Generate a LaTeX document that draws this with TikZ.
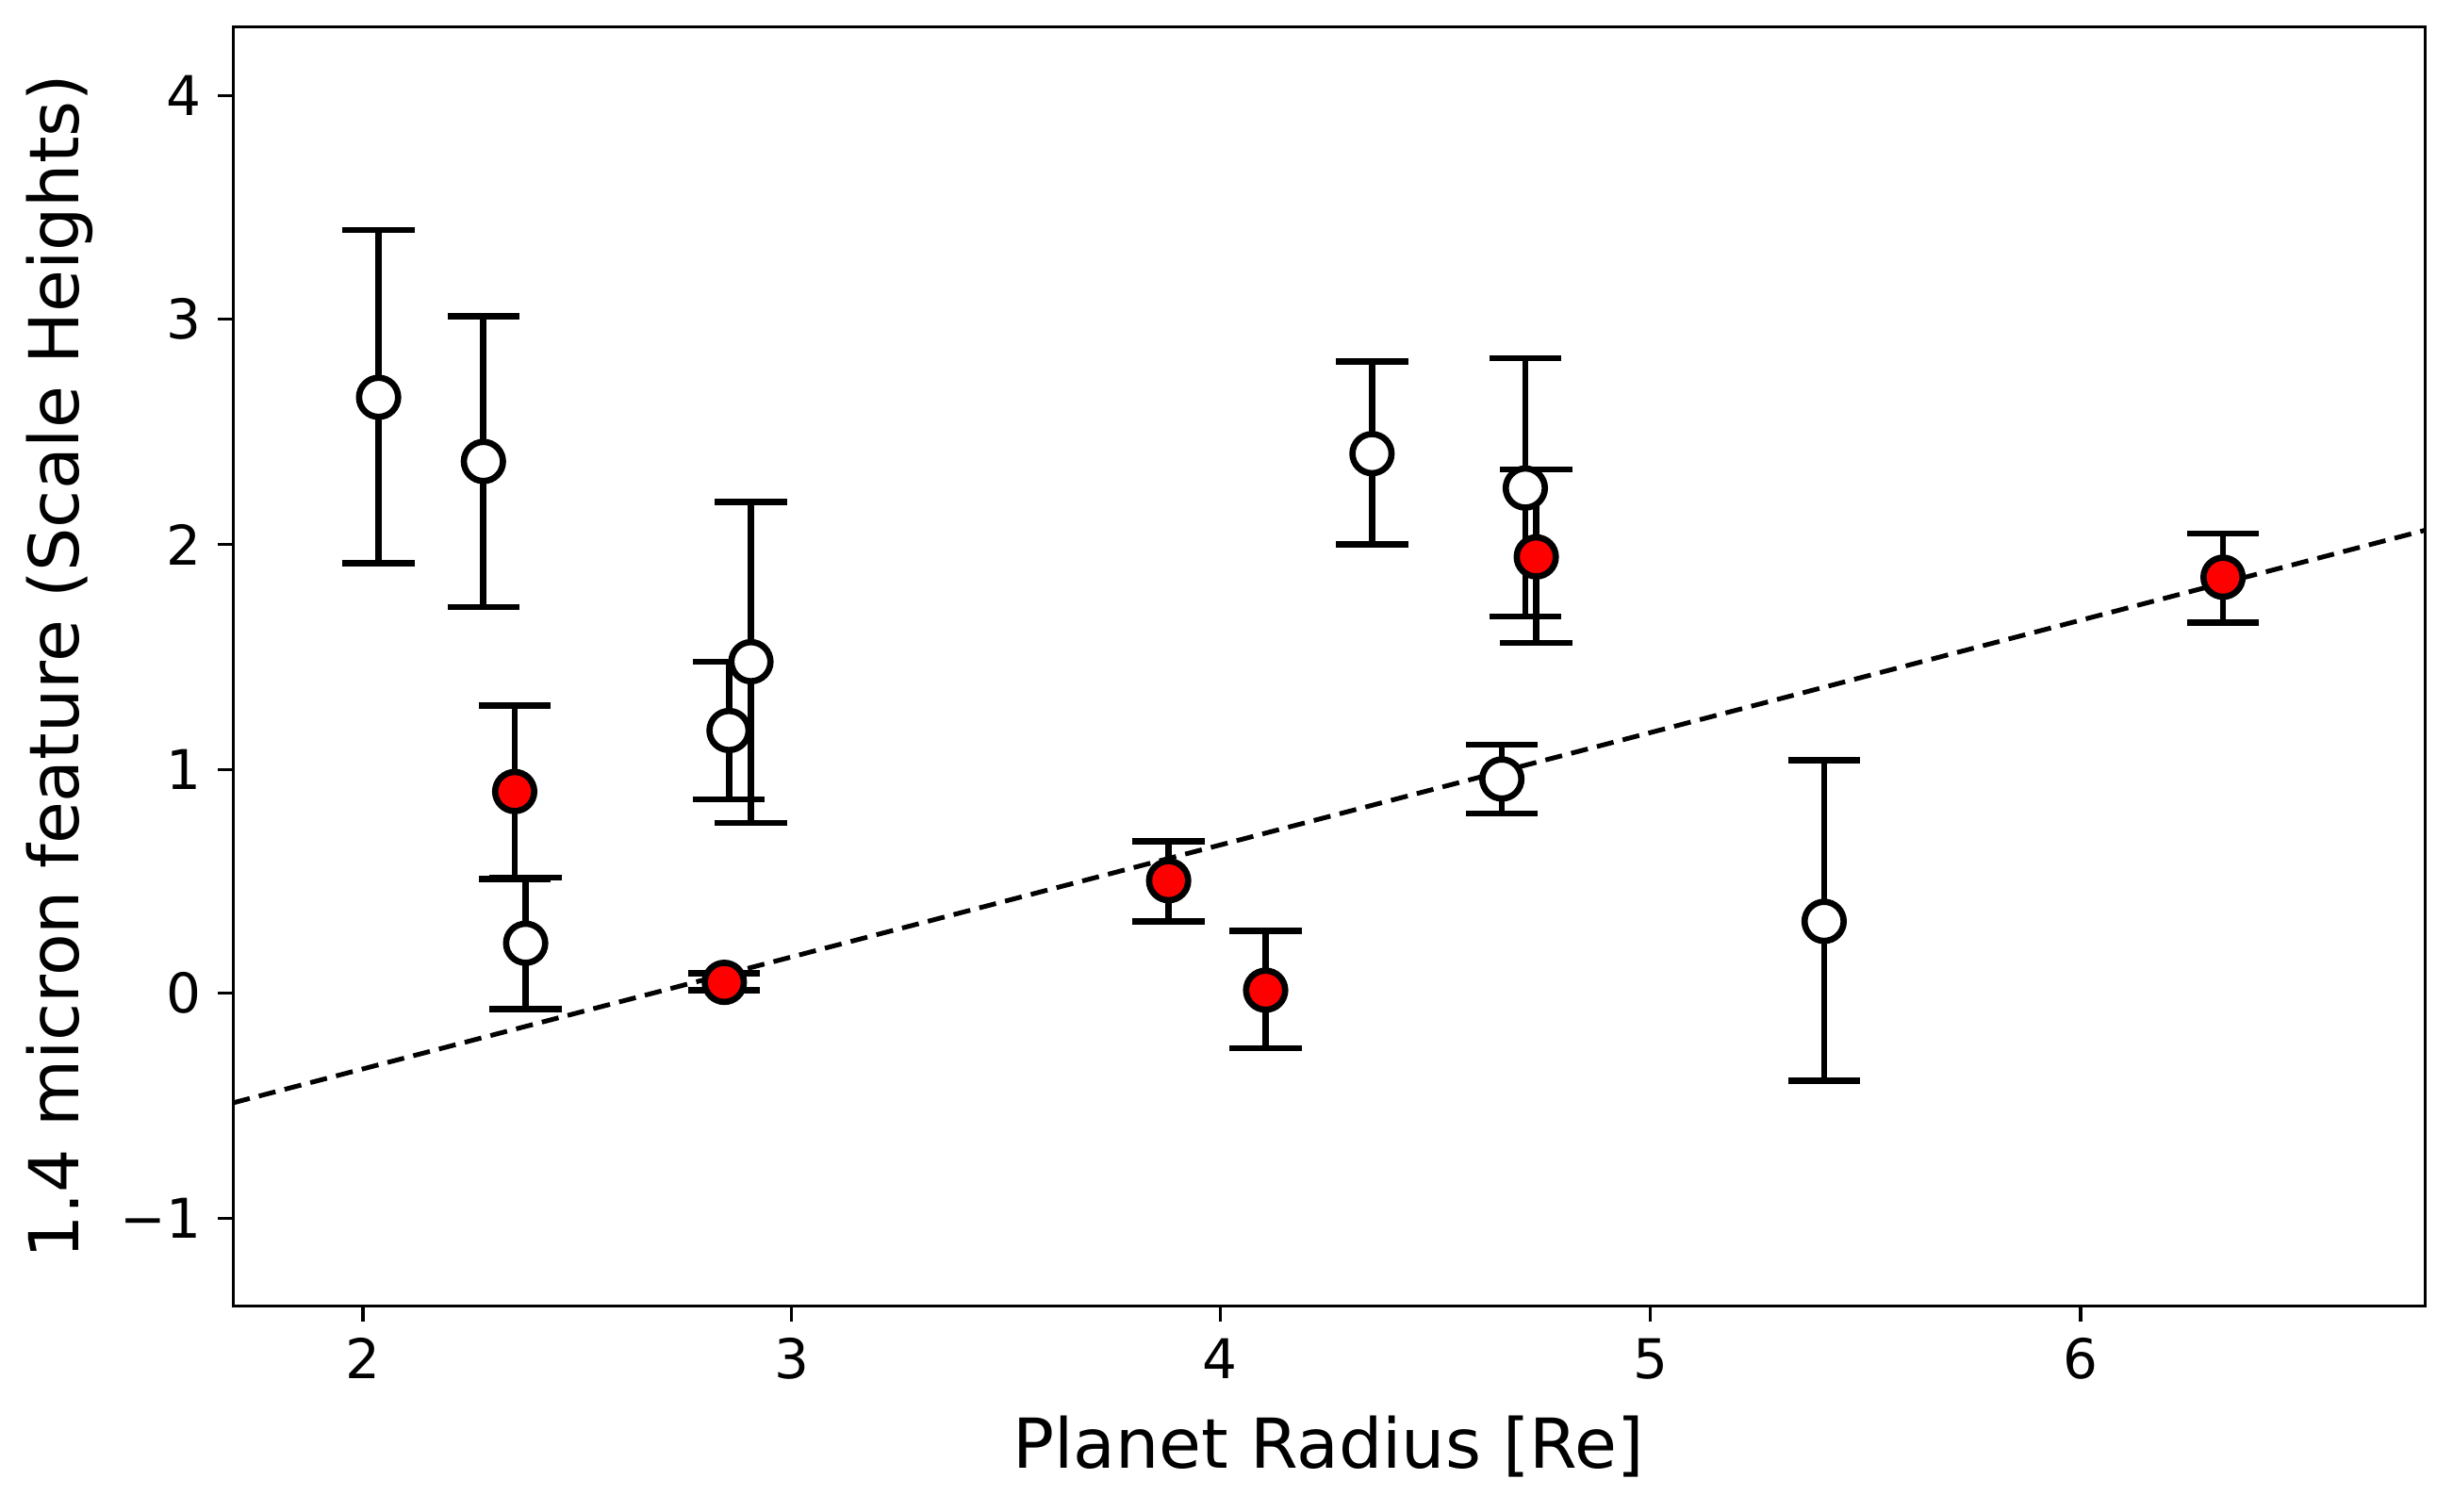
\documentclass[tikz,border=0pt]{standalone}
\usepackage{fontspec}
\setmainfont{DejaVu Sans}
\begin{document}
\begin{tikzpicture}[x=1pt,y=-1pt,
  tick/.style={line width=2pt},
  ebar/.style={line width=4pt},
  openpt/.style={circle,draw=black,fill=white,line width=4pt,minimum size=25pt,inner sep=0pt},
  redpt/.style={circle,draw=black,fill=red,line width=4pt,minimum size=25pt,inner sep=0pt},
  ticklab/.style={font=\fontsize{35}{40}\selectfont}]
\useasboundingbox (0,0) rectangle (1568,966);
\begin{scope}
\clip (149,17) rectangle (1550,835);
\draw[line width=3pt,dash pattern=on 11pt off 6pt] (149,705) -- (1550,339);
\end{scope}
% x ticks
\foreach \x/\l in {232/2,506/3,780/4,1055/5,1330/6}{
  \draw[tick] (\x,835) -- (\x,845);
  \node[ticklab,anchor=north] (xt\l) at (\x,852) {\l};}
\foreach \y/\l/\n in {61/4/a,204/3/b,348/2/c,492/1/d,635/0/e,779/−1/f}{
  \draw[tick] (149,\y) -- (139,\y);
  \node[ticklab,anchor=east] (yt\n) at (132,\y) {\l};}
\node[font=\fontsize{44}{50}\selectfont] (xl) at (849,925) {Planet Radius [Re]};
\node[font=\fontsize{44}{50}\selectfont,rotate=90] (yl) at (38,426) {1.4 micron feature (Scale Heights)};
% error bars: x, y, top, bottom
\foreach \x/\t/\b in {242/147/360,309/202/388,336/561/645,466/423/511,480/321/526,877/231/348,975/229/394,960/476/520,1166/486/691,329/451/562,463/622/633,747/538/589,809/595/670,982/300/411,1421/341/398}{
  \draw[ebar] (\x,\t) -- (\x,\b);
  \draw[ebar] (\x-23,\t) -- (\x+23,\t);
  \draw[ebar] (\x-23,\b) -- (\x+23,\b);}
\foreach \x/\y [count=\i] in {242/254,309/295,336/603,466/467,480/423,877/290,975/312,960/498,1166/589}
  \node[openpt] (o\i) at (\x,\y) {};
\foreach \x/\y [count=\i] in {329/506,463/628,747/563,809/633,982/356,1421/369}
  \node[redpt] (r\i) at (\x,\y) {};
\draw[line width=2pt] (149,17) rectangle (1550,835);
\end{tikzpicture}
\end{document}
